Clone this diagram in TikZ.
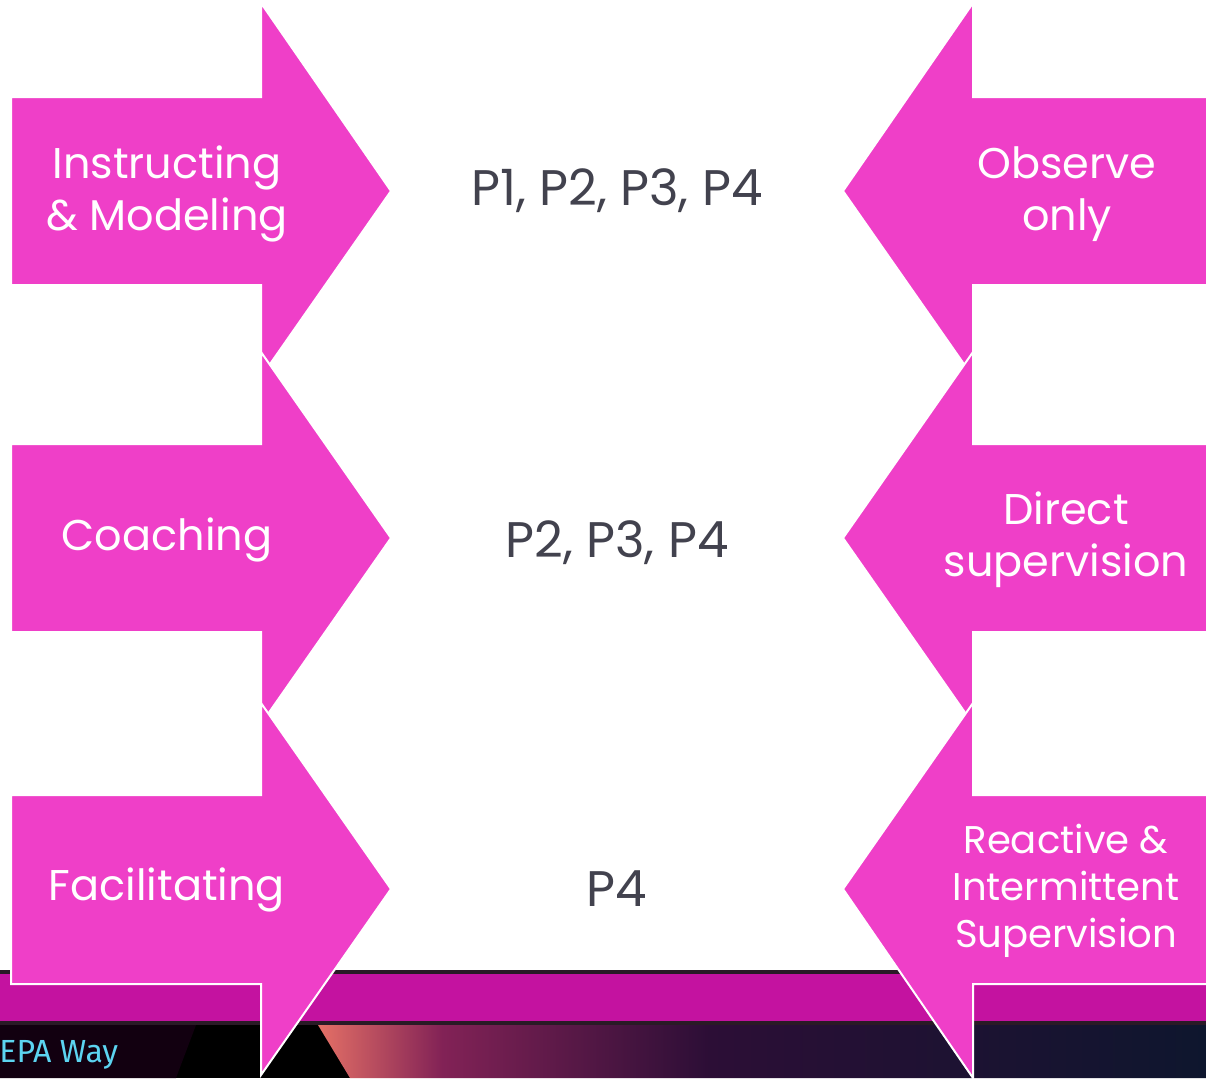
\documentclass[tikz,border=0pt]{standalone}
\usepackage{fontspec}
\setmainfont{Poppins}
\newfontfamily\bandeau{Fira Sans}

\definecolor{rose}{RGB}{239,63,200}
\definecolor{bande}{RGB}{196,18,160}
\definecolor{filet}{RGB}{42,26,38}
\definecolor{gris}{RGB}{66,66,78}
\definecolor{cyanclair}{RGB}{92,212,240}
\definecolor{ombre}{RGB}{18,0,16}
\definecolor{saumon}{RGB}{228,112,102}
\definecolor{prune}{RGB}{130,34,86}
\definecolor{violetnuit}{RGB}{44,14,54}
\definecolor{nuit}{RGB}{14,22,46}

% degrade du bandeau du bas (le chemin occupe 25bp..75bp)
\pgfdeclarehorizontalshading{crepuscule}{100bp}{color(0bp)=(saumon); color(25bp)=(saumon); color(32bp)=(prune); color(47bp)=(violetnuit); color(75bp)=(nuit); color(100bp)=(nuit)}

\begin{document}
\begin{tikzpicture}[x=0.5pt, y=-0.5pt]
	\tikzset{fleche/.style={fill=rose, draw=white, line width=1pt, line join=miter},
		etiquette/.style={text=white, align=center, inner sep=0pt, font=\fontsize{21.5}{26}\selectfont},
		palier/.style={text=gris, inner sep=0pt, font=\fontsize{25}{28}\selectfont}};
	\useasboundingbox (0,0) rectangle (1206,1078);
	\clip (0,0) rectangle (1206,1078);

	% bandeau
	\fill[filet] (0,970) rectangle (1206,1078);
	\fill[bande] (0,974) rectangle (1206,1021);
	\fill[black] (0,1025) rectangle (1206,1078);
	\fill[ombre] (0,1025) -- (196,1025) -- (176,1078) -- (0,1078) -- cycle;
	\shade[shading=crepuscule] (318,1025) -- (1206,1025) -- (1206,1078) -- (350,1078) -- cycle;
	\node[anchor=base west, inner sep=0pt, text=cyanclair, font=\bandeau\fontsize{16}{18}\selectfont] (marque) at (-1,1062) {EPA Way};

	% fleches de gauche
	\draw[fleche] (11,97) -- (261,97) -- (261,3) -- (391,191) -- (261,377) -- (261,285) -- (11,285) -- cycle;
	\draw[fleche] (11,444) -- (261,444) -- (261,352) -- (391,538) -- (261,724) -- (261,632) -- (11,632) -- cycle;
	\draw[fleche] (11,795) -- (261,795) -- (261,703) -- (391,889) -- (261,1075) -- (261,984) -- (11,984) -- cycle;

	% fleches de droite
	\draw[fleche] (1215,97) -- (973,97) -- (973,3) -- (843,191) -- (973,377) -- (973,285) -- (1215,285) -- cycle;
	\draw[fleche] (1215,444) -- (973,444) -- (973,352) -- (843,538) -- (973,724) -- (973,632) -- (1215,632) -- cycle;
	\draw[fleche] (1215,795) -- (973,795) -- (973,703) -- (843,889) -- (973,1078) -- (973,984) -- (1215,984) -- cycle;

	\node[etiquette] (instruire) at (167,194) {Instructing\\\& Modeling};
	\node[etiquette] (coacher) at (167,540) {Coaching};
	\node[etiquette] (faciliter) at (167,890) {Facilitating};
	\node[etiquette] (observer) at (1067,194) {Observe\\only};
	\node[etiquette] (diriger) at (1066,540) {Direct\\supervision};
	\node[etiquette, font=\fontsize{19.3}{23.5}\selectfont] (reagir) at (1066,891) {Reactive \&\\Intermittent\\Supervision};

	\node[palier] (tous) at (617,191) {P1, P2, P3, P4};
	\node[palier] (trois) at (617,543) {P2, P3, P4};
	\node[palier] (dernier) at (617,889) {P4};
\end{tikzpicture}
\end{document}
